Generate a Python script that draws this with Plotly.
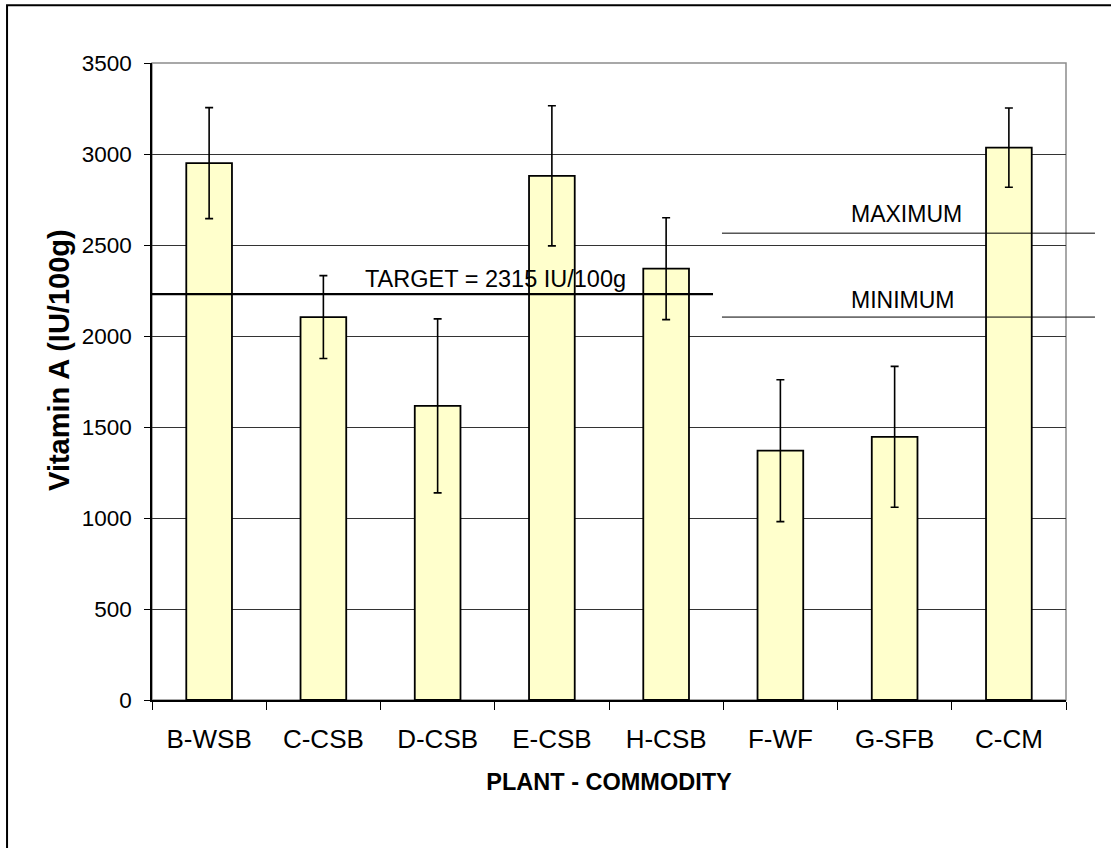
import plotly.graph_objects as go

categories = ["B-WSB", "C-CSB", "D-CSB", "E-CSB", "H-CSB", "F-WF", "G-SFB", "C-CM"]
vitamin_a = [2950, 2104, 1616, 2880, 2370, 1370, 1446, 3035]
error_vals = [305, 228, 478, 385, 280, 390, 387, 218]

target_value = 2230
maximum_value = 2565
minimum_value = 2104
y_ticks = [0, 500, 1000, 1500, 2000, 2500, 3000, 3500]

FONT = "Liberation Sans, Arial, sans-serif"

fig = go.Figure()
fig.add_trace(go.Bar(
    x=categories, y=vitamin_a, width=0.40,
    marker=dict(color="#FFFFCC", line=dict(color="black", width=1.8)),
    error_y=dict(type="data", array=error_vals, visible=True,
                 color="black", thickness=1.6, width=4),
    showlegend=False,
))

shapes = [
    # plot area border (gray)
    dict(type="rect", xref="paper", yref="paper", x0=0, x1=1, y0=0, y1=1,
         line=dict(color="#8c8c8c", width=1.5), layer="below"),
    # outer chart frame
    dict(type="rect", xref="paper", yref="paper", x0=-0.1586, x1=1.2, y0=-0.4, y1=1.0905,
         line=dict(color="black", width=2)),
    # target line
    dict(type="line", xref="paper", yref="y", x0=0, x1=0.6138,
         y0=target_value, y1=target_value, line=dict(color="black", width=2.2)),
    # maximum / minimum lines
    dict(type="line", xref="paper", yref="y", x0=0.6236, x1=1.0317,
         y0=maximum_value, y1=maximum_value, line=dict(color="black", width=1)),
    dict(type="line", xref="paper", yref="y", x0=0.6236, x1=1.0317,
         y0=minimum_value, y1=minimum_value, line=dict(color="black", width=1)),
]

annotations = [
    dict(text="TARGET = 2315 IU/100g", xref="paper", yref="y", x=0.2309, y=2314,
         xanchor="left", yanchor="middle", showarrow=False,
         font=dict(family=FONT, size=23.5, color="black")),
    dict(text="MAXIMUM", xref="paper", yref="y", x=0.7626, y=2669,
         xanchor="left", yanchor="middle", showarrow=False,
         font=dict(family=FONT, size=23, color="black")),
    dict(text="MINIMUM", xref="paper", yref="y", x=0.7626, y=2199,
         xanchor="left", yanchor="middle", showarrow=False,
         font=dict(family=FONT, size=23, color="black")),
    # y-axis title
    dict(text="<b>Vitamin A (IU/100g)</b>", xref="paper", yref="paper",
         x=-0.1018, y=0.5338, xanchor="center", yanchor="middle", textangle=-90,
         showarrow=False, font=dict(family=FONT, size=29, color="black")),
]

fig.update_layout(
    width=1111, height=848,
    margin=dict(l=152, r=45, t=63, b=148),
    paper_bgcolor="white", plot_bgcolor="white",
    font=dict(family=FONT, color="black"),
    shapes=shapes, annotations=annotations,
    bargap=0.6,
)
fig.update_xaxes(
    type="category", tickson="boundaries", ticks="outside", ticklen=8,
    tickcolor="black", tickwidth=1, showline=True, linecolor="black", linewidth=1.5,
    showgrid=False, tickfont=dict(family=FONT, size=26, color="black"),
    ticklabelstandoff=15,
    title=dict(text="<b>PLANT - COMMODITY</b>", font=dict(family=FONT, size=23.5, color="black"),
               standoff=21),
)
fig.update_yaxes(
    range=[0, 3500], tickvals=y_ticks, ticks="outside", ticklen=6,
    tickcolor="black", tickwidth=1, showline=True, linecolor="black", linewidth=1.5,
    showgrid=True, gridcolor="#333333", gridwidth=1, zeroline=False,
    tickfont=dict(family=FONT, size=22.5, color="black"), ticklabelstandoff=8,
)

fig.write_html("out.html", config={"displayModeBar": False},
               post_script="document.body.style.margin='0';")
